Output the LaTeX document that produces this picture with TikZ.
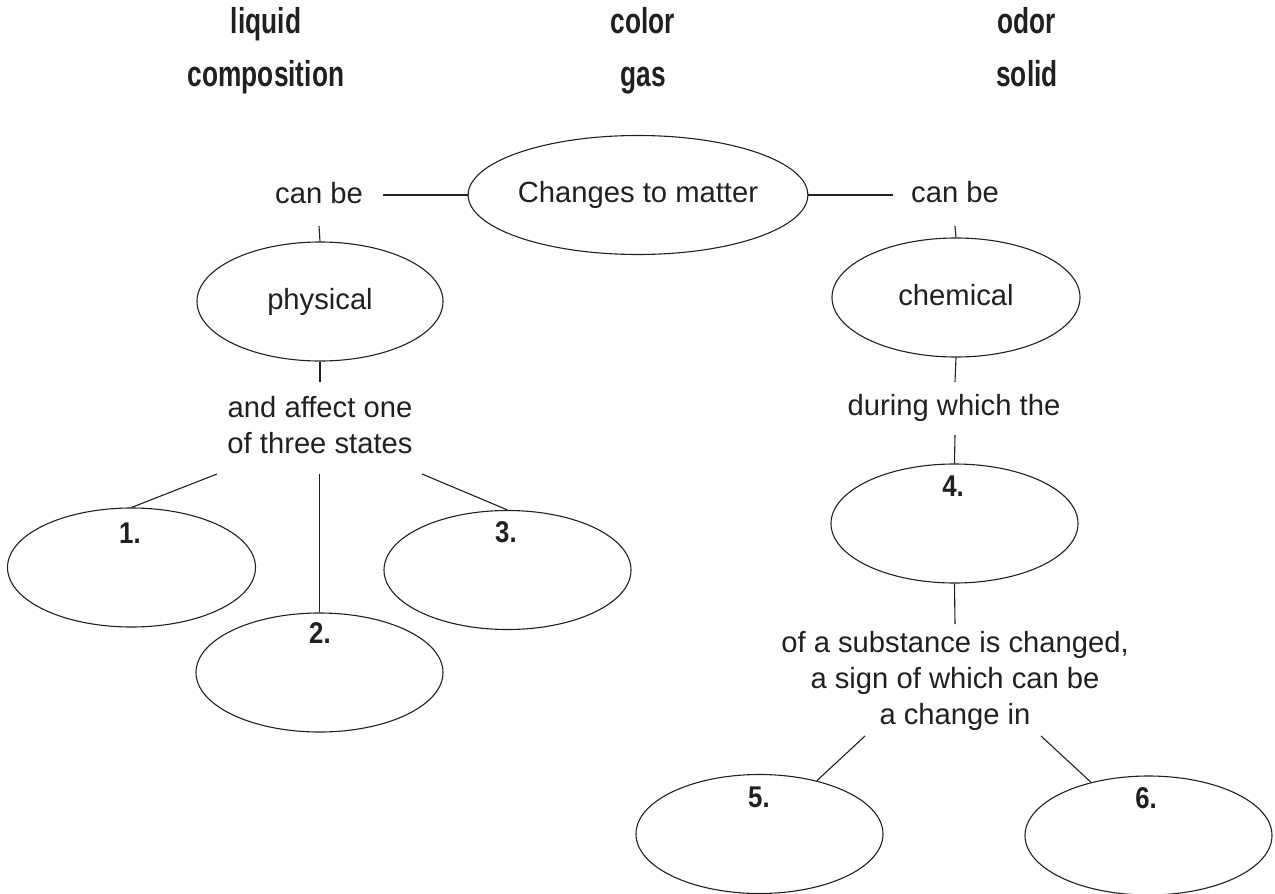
\documentclass[tikz,border=0pt]{standalone}
\usepackage{fontspec}
\setmainfont{Liberation Sans}
\newfontfamily\headfont{Liberation Sans}[FakeStretch=0.73]
\newfontfamily\numfont{Liberation Sans}[FakeStretch=0.86]
\usetikzlibrary{shapes.geometric}
\definecolor{ink}{RGB}{35,31,32}
% centred lines whose baseline is the first line
\newcommand\stackedtext[1]{\begin{tabular}[t]{@{}c@{}}#1\end{tabular}}

\begin{document}
\begin{tikzpicture}[x=1pt,y=-1pt,
  bubble/.style={ellipse, draw=ink, line width=1.1pt, inner sep=0pt,
    minimum width=248pt, minimum height=119pt, text=ink,
    text height=21.3pt, text depth=6.1pt,
    font=\fontsize{29.2}{36}\selectfont},
  phrase/.style={inner sep=0pt, anchor=base, text=ink,
    font=\fontsize{29.2}{36}\selectfont},
  num/.style={inner sep=0pt, anchor=base, text=ink,
    font=\numfont\bfseries\fontsize{30}{36}\selectfont},
  heading/.style={inner sep=0pt, anchor=base, text=ink,
    font=\headfont\bfseries\fontsize{36}{40}\selectfont},
  wire/.style={draw=ink, line width=1.1pt}]
\useasboundingbox (0,0) rectangle (1275,894);

% word bank
\node[heading] (wLiquid) at (266,33) {liquid};
\node[heading] (wComp)   at (266,86) {composition};
\node[heading] (wColor)  at (643,33) {color};
\node[heading] (wGas)    at (643,86) {gas};
\node[heading] (wOdor)   at (1027,33) {odor};
\node[heading] (wSolid)  at (1027,86) {solid};

% central concept
\node[bubble, minimum width=334pt, minimum height=119pt] (cm) at (638,195) {Changes to matter};
\node[phrase] (canL) at (319,203) {can be};
\node[phrase] (canR) at (955,202) {can be};
\coordinate (canLe) at (383,195);
\coordinate (canRe) at (893,195);
\coordinate (canLs) at (319,226);
\coordinate (canRs) at (955,226);

% physical branch
\node[bubble, minimum width=246pt] (phys) at (320,301.5) {physical};
\node[phrase] (aff) at (320,417) {\stackedtext{and affect one\\of three states}};
\coordinate (affN) at (320,382);
\coordinate (affL) at (217,474);
\coordinate (affM) at (319.5,474);
\coordinate (affR) at (422,474);
\node[bubble] (s1) at (131.5,567.5) {};
\node[bubble, minimum width=247pt] (s2) at (319.5,672.5) {};
\node[bubble, minimum width=247pt] (s3) at (507.5,570) {};
\node[num] (n1) at (130,543) {1.};
\node[num] (n2) at (320,643) {2.};
\node[num] (n3) at (506,542) {3.};

% chemical branch
\node[bubble] (chem) at (956,297.5) {chemical};
\node[phrase] (dur) at (954,415) {during which the};
\coordinate (durN) at (955,382);
\coordinate (durS) at (955,435);
\node[bubble, minimum width=247pt] (e4) at (954.5,523.5) {};
\node[num] (n4) at (953,496) {4.};
\node[phrase] (sub) at (955,652) {\stackedtext{of a substance is changed,\\a sign of which can be\\a change in}};
\coordinate (subN) at (955,624);
\coordinate (subL) at (865,736);
\coordinate (subR) at (1041,736);
\node[bubble, minimum width=247pt] (s5) at (759.5,834) {};
\node[bubble, minimum width=247pt] (s6) at (1148.5,835.5) {};
\node[num] (n5) at (759,807) {5.};
\node[num] (n6) at (1146,808) {6.};

% connectors
\draw[wire] (cm.west) -- (canLe);
\draw[wire] (cm.east) -- (canRe);
\draw[wire] (canLs) -- (phys.north);
\draw[wire] (canRs) -- (chem.north);
\draw[wire] (phys.south) -- (affN);
\draw[wire] (affL) -- (s1.north);
\draw[wire] (affM) -- (s2.north);
\draw[wire] (affR) -- (s3.north);
\draw[wire] (chem.south) -- (durN);
\draw[wire] (durS) -- (e4.north);
\draw[wire] (e4.south) -- (subN);
\draw[wire] (subL) -- (s5);
\draw[wire] (subR) -- (s6);
\end{tikzpicture}
\end{document}
